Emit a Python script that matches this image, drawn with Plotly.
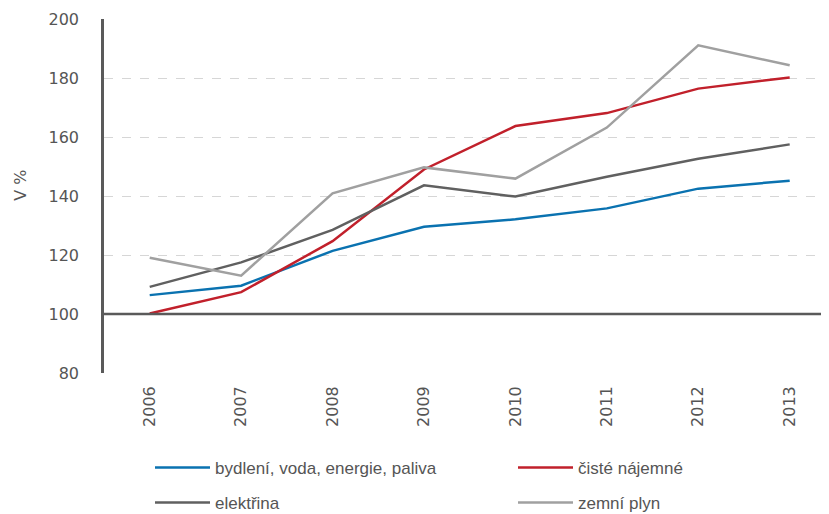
import plotly.graph_objects as go

years = ["2006", "2007", "2008", "2009", "2010", "2011", "2012", "2013"]
bydleni = [106.4, 109.6, 121.4, 129.6, 132.1, 135.8, 142.5, 145.2]
najemne = [100.2, 107.4, 124.7, 149.0, 163.7, 168.1, 176.4, 180.2]
elektrina = [109.2, 117.5, 128.5, 143.6, 139.8, 146.5, 152.6, 157.5]
plyn = [119.1, 113.0, 140.9, 149.7, 145.9, 163.2, 191.1, 184.3]

names = ["bydlení, voda, energie, paliva", "čisté nájemné", "elektřina", "zemní plyn"]
colors = ["#0a72b0", "#c1202b", "#606060", "#a0a0a0"]
series = [bydleni, najemne, elektrina, plyn]
legends = ["legend", "legend", "legend2", "legend2"]

fig = go.Figure()
for name, vals, col, lg in zip(names, series, colors, legends):
    fig.add_trace(go.Scatter(x=years, y=vals, mode="lines", name=name,
                             line=dict(color=col, width=2.5), legend=lg))

fig.add_shape(type="line", xref="paper", x0=0, x1=1, yref="y", y0=100, y1=100,
              line=dict(color="#5a5a5a", width=2.5))

fig.add_annotation(text="V %", textangle=-90, xref="paper", yref="y",
                   x=(20 - 103) / 726, y=143.5, xanchor="center", yanchor="middle",
                   showarrow=False, font=dict(size=16, color="#555555"))

# page body has an 8px margin; figure is sized to fill the rest of the window
W, H = 821, 506
OFF = 8
legend_font = dict(family="Liberation Sans, Arial, sans-serif", size=17, color="#555555")
leg_common = dict(orientation="h", xanchor="left", yanchor="middle", yref="container",
                  xref="container", x=142 / W, entrywidth=293, entrywidthmode="pixels",
                  itemwidth=55, font=legend_font, bgcolor="rgba(0,0,0,0)",
                  traceorder="normal")

fig.update_layout(
    width=W, height=H,
    margin=dict(l=96, r=0, t=11, b=141, autoexpand=False),
    plot_bgcolor="white", paper_bgcolor="white",
    font=dict(family="DejaVu Sans, sans-serif", size=15, color="#555555"),
    showlegend=True,
    legend=dict(**leg_common, y=1 - (468 - OFF) / H),
    legend2=dict(**leg_common, y=1 - (503 - OFF) / H),
    xaxis=dict(type="category", range=[-0.5, 7.43], tickangle=-90,
               showgrid=False, showline=False, ticks="", ticklabelstandoff=9,
               tickfont=dict(size=16, color="#555555")),
    yaxis=dict(range=[80, 200], dtick=20, tick0=80, showgrid=True,
               gridcolor="#d6d6d6", griddash="dash", gridwidth=1,
               showline=True, linecolor="#5a5a5a", linewidth=2.5,
               zeroline=False, ticks="", ticklabelstandoff=19,
               tickfont=dict(size=16, color="#555555")),
)

fig.write_html("out.html")
